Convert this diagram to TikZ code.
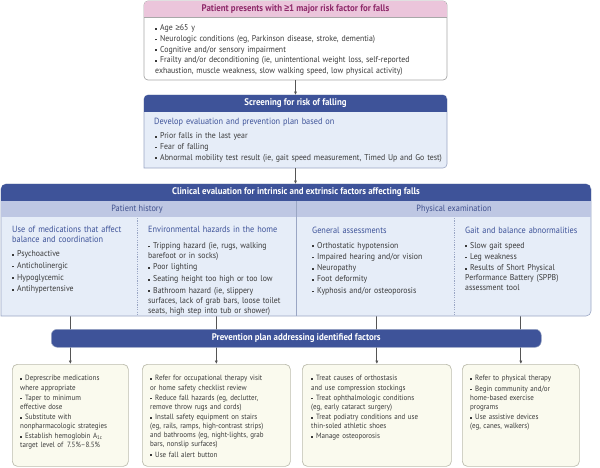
\documentclass[tikz,border=0pt]{standalone}
\usepackage{fontspec}
\setmainfont{PT Sans}[FakeStretch=0.92]
\newfontfamily\symf{Liberation Sans}[FakeStretch=0.92]
\usetikzlibrary{arrows.meta,backgrounds}
\definecolor{jblue}{HTML}{3E5399}
\definecolor{jlight}{HTML}{E6EDF8}
\definecolor{jsub}{HTML}{BEC7E3}
\definecolor{jsubtext}{HTML}{3E4F8C}
\definecolor{jborder}{HTML}{9AA6C4}
\definecolor{jpink}{HTML}{EBC5DB}
\definecolor{jpinktext}{HTML}{8E2A6A}
\definecolor{jcream}{HTML}{FAFAEE}
\definecolor{jcreamline}{HTML}{BDBDAE}
\definecolor{jgray}{HTML}{A8A8A8}
\definecolor{jtext}{HTML}{3A3A3A}
\definecolor{jline}{HTML}{555555}
\newcommand{\bl}{\par\hangindent=5pt\hangafter=1\noindent\makebox[5pt][l]{\raisebox{0.22ex}{\rule{1.7pt}{1.7pt}}}}
\newcommand{\geqsym}{{\symf ≥}}
\tikzset{
  frame/.style={anchor=north west, draw=none, inner sep=0pt, outer sep=0pt},
  hdrtext/.style={text=white, inner sep=0pt, font=\fontsize{9.6}{11}\selectfont\bfseries},
  subtext/.style={text=jsubtext, inner sep=0pt, font=\fontsize{9}{11}\selectfont},
  body/.style={anchor=north west, inner sep=0pt, text=jtext, align=left, text width=#1,
     font=\fontsize{8.5}{10.4}\selectfont, execute at begin node={\setlength{\parskip}{0.9pt}}},
  small/.style={anchor=north west, inner sep=0pt, text=jtext, align=left, text width=#1,
     font=\fontsize{7.6}{9.1}\selectfont, execute at begin node={\setlength{\parskip}{1.1pt}}},
  head/.style={anchor=north west, inner sep=0pt, text=jblue, align=left, text width=#1,
     font=\fontsize{9}{10.2}\selectfont},
  conn/.style={draw=jline, line width=0.8pt, -{Latex[length=3.5pt,width=3.2pt]}},
  cream/.style={anchor=north west, fill=jcream, draw=jcreamline, line width=0.7pt, rounded corners=5pt, inner sep=0pt},
}
\begin{document}
\begin{tikzpicture}[x=1pt,y=-1pt]
\useasboundingbox (0,0) rectangle (600,467);
% ---------- top box
\node[frame, minimum width=303, minimum height=79] (top) at (144,1) {};
\path[fill=white, draw=jgray, line width=0.7pt, rounded corners=4pt] (top.south west) rectangle (top.north east);
\begin{scope}
\clip[rounded corners=4pt] (top.south west) rectangle (top.north east);
\fill[jpink] (144,1) rectangle (447,17);
\end{scope}
\draw[jgray, line width=0.5pt] (144,17) -- (447,17);
\node[hdrtext, text=jpinktext] (toph) at (295.5,9.3) {Patient presents with \geqsym1 major risk factor for falls};
\node[body=290pt, font=\fontsize{8.5}{10.8}\selectfont, execute at begin node={\setlength{\parskip}{0pt}}] (topt) at (155,19.5) {%
\bl Age \geqsym65 y
\bl Neurologic conditions (eg, Parkinson disease, stroke, dementia)
\bl Cognitive and/or sensory impairment
\bl Frailty and/or deconditioning (ie, unintentional weight loss, self-reported\\ exhaustion, muscle weakness, slow walking speed, low physical activity)};
% ---------- screening box
\node[frame, minimum width=303, minimum height=73] (scr) at (144,95) {};
\path[fill=jlight, draw=jborder, line width=0.6pt] (scr.south west) [rounded corners=4pt] -- (scr.north west) -- (scr.north east) -- (scr.south east) [sharp corners] -- cycle;
\begin{scope}
\clip (scr.south west) [rounded corners=4pt] -- (scr.north west) -- (scr.north east) -- (scr.south east) [sharp corners] -- cycle;
\fill[jblue] (144,95) rectangle (447,112);
\end{scope}
\node[hdrtext] (scrh) at (295.5,103.5) {Screening for risk of falling};
\node[head=290pt] (scrd) at (154,117.5) {Develop evaluation and prevention plan based on};
\node[body=290pt, execute at begin node={\setlength{\parskip}{0.4pt}}] (scrt) at (155,127.5) {%
\bl Prior falls in the last year
\bl Fear of falling
\bl Abnormal mobility test result (ie, gait speed measurement, Timed Up and Go test)};
% ---------- clinical evaluation box
\node[frame, minimum width=590, minimum height=132] (clin) at (1,184) {};
\path[fill=jlight, draw=jborder, line width=0.6pt] (clin.south west) [rounded corners=5pt] -- (clin.north west) -- (clin.north east) -- (clin.south east) [sharp corners] -- cycle;
\begin{scope}
\clip (clin.south west) [rounded corners=5pt] -- (clin.north west) -- (clin.north east) -- (clin.south east) [sharp corners] -- cycle;
\fill[jblue] (1,184) rectangle (591,201);
\fill[jsub] (1,201) rectangle (591,217);
\end{scope}
\draw[jborder, line width=0.6pt] (296,201) -- (296,316);
\draw[jborder, line width=0.6pt, dash pattern=on 1.2pt off 1.2pt] (137,218) -- (137,316);
\draw[jborder, line width=0.6pt, dash pattern=on 1.2pt off 1.2pt] (454,218) -- (454,316);
\node[hdrtext] (clinh) at (296,192.5) {Clinical evaluation for intrinsic and extrinsic factors affecting falls};
\node[subtext] (ph) at (137,209) {Patient history};
\node[subtext] (pe) at (454,209) {Physical examination};
% column 1
\node[head=125pt] (c1h) at (12,226) {Use of medications that affect\\ balance and coordination};
\node[body=120pt, execute at begin node={\setlength{\parskip}{1.2pt}}] (c1t) at (12,245) {%
\bl Psychoactive
\bl Anticholinergic
\bl Hypoglycemic
\bl Antihypertensive};
% column 2
\node[head=145pt] (c2h) at (148,226) {Environmental hazards in the home};
\node[body=145pt, font=\fontsize{8.5}{10}\selectfont, execute at begin node={\setlength{\parskip}{1.6pt}}] (c2t) at (148,236.5) {%
\bl Tripping hazard (ie, rugs, walking\\ barefoot or in socks)
\bl Poor lighting
\bl Seating height too high or too low
\bl Bathroom hazard (ie, slippery\\ surfaces, lack of grab bars, loose toilet\\ seats, high step into tub or shower)};
% column 3
\node[head=140pt] (c3h) at (312,227) {General assessments};
\node[body=140pt] (c3t) at (312,236.5) {%
\bl Orthostatic hypotension
\bl Impaired hearing and/or vision
\bl Neuropathy
\bl Foot deformity
\bl Kyphosis and/or osteoporosis};
% column 4
\node[head=130pt] (c4h) at (465,227) {Gait and balance abnormalities};
\node[body=125pt, font=\fontsize{8.5}{10}\selectfont, execute at begin node={\setlength{\parskip}{1.3pt}}] (c4t) at (465,236.5) {%
\bl Slow gait speed
\bl Leg weakness
\bl Results of Short Physical\\ Performance Battery (SPPB)\\ assessment tool};
% ---------- prevention bar
\node[anchor=north west, fill=jblue, draw=jborder, line width=0.5pt, rounded corners=6pt, minimum width=490, minimum height=18, inner sep=0pt] (bar) at (51,329) {};
\node[hdrtext] (barh) at (bar.center) {Prevention plan addressing identified factors};
% ---------- bottom boxes
\node[cream, minimum width=116, minimum height=102] (b1) at (12,364) {};
\node[cream, minimum width=148, minimum height=102] (b2) at (142,364) {};
\node[cream, minimum width=149, minimum height=102] (b3) at (302,364) {};
\node[cream, minimum width=117, minimum height=102] (b4) at (462,364) {};
\node[small=112pt] (b1t) at (20,370.5) {%
\bl Deprescribe medications\\ where appropriate
\bl Taper to minimum\\ effective dose
\bl Substitute with\\ nonpharmacologic strategies
\bl Establish hemoglobin A\textsubscript{1c}\\ target level of \,7.5\%--8.5\%};
\node[small=140pt] (b2t) at (150,370.5) {%
\bl Refer for occupational therapy visit\\ or home safety checklist review
\bl Reduce fall hazards (eg, declutter,\\ remove throw rugs and cords)
\bl Install safety equipment on stairs\\ (eg, rails, ramps, high-contrast strips)\\ and bathrooms (eg, night-lights, grab\\ bars, nonslip surfaces)
\bl Use fall alert button};
\node[small=140pt] (b3t) at (311,370.5) {%
\bl Treat causes of orthostasis\\ and use compression stockings
\bl Treat ophthalmologic conditions\\ (eg, early cataract surgery)
\bl Treat podiatry conditions and use\\ thin-soled athletic shoes
\bl Manage osteoporosis};
\node[small=110pt] (b4t) at (470,370.5) {%
\bl Refer to physical therapy
\bl Begin community and/or\\ home-based exercise\\ programs
\bl Use assistive devices\\ (eg, canes, walkers)};
% ---------- connectors
\draw[conn] (top.south) -- (scr.north);
\draw[conn] (scr.south) -- (scr.south |- clin.north);
\begin{scope}[on background layer]
\foreach \b in {b1,b2,b3,b4}{
  \draw[conn] (clin.south -| \b.north) -- (\b.north);
}
\end{scope}
\end{tikzpicture}
\end{document}
